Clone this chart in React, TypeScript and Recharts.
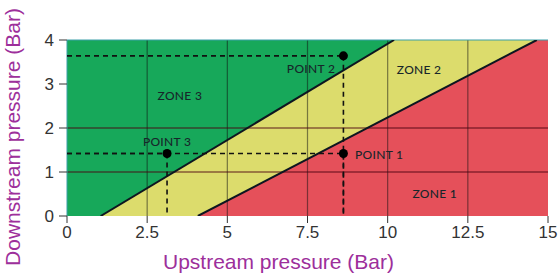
import React from 'react';
import { ComposedChart, Area, Line, Scatter, XAxis, YAxis, CartesianGrid, ReferenceLine } from 'recharts';

// axis ticks
const xTicks = [0, 2.5, 5, 7.5, 10, 12.5, 15];
const yTicks = [0, 1, 2, 3, 4];
const gridX = [2.5, 5, 7.5, 10, 12.5];
const gridY = [1, 2];

// zone boundaries (upstream, downstream)
const zone3Boundary = [
  { x: 1.05, y: 0 },
  { x: 10.2, y: 4 },
];
const zone1Boundary = [
  { x: 4.08, y: 0 },
  { x: 14.65, y: 4 },
];
const xMax = 15;
const yMax = 4;

// operating points
const points = [
  { name: 'POINT 1', x: 8.62, y: 1.42 },
  { name: 'POINT 2', x: 8.62, y: 3.64 },
  { name: 'POINT 3', x: 3.12, y: 1.42 },
];

// text placed on the plot
const plotLabels = [
  { text: 'ZONE 3', x: 3.52, y: 2.75, anchor: 'middle' },
  { text: 'ZONE 2', x: 10.98, y: 3.32, anchor: 'middle' },
  { text: 'ZONE 1', x: 11.47, y: 0.52, anchor: 'middle' },
  { text: 'POINT 1', x: 8.98, y: 1.39, anchor: 'start' },
  { text: 'POINT 2', x: 7.61, y: 3.36, anchor: 'middle' },
  { text: 'POINT 3', x: 3.12, y: 1.7, anchor: 'middle' },
];

const GREEN = '#17a85a';
const YELLOW = '#dcdc6c';
const RED = '#e5505a';
const PURPLE = '#9d2f9b';

const zone2Fill = [...zone3Boundary, { x: xMax, y: yMax }];
const zone1Fill = [...zone1Boundary, { x: xMax, y: yMax }];

const PlotText = (props: any) => {
  const { cx, cy, payload } = props;
  return (
    <text
      x={cx}
      y={cy}
      textAnchor={payload.anchor}
      dominantBaseline="central"
      fontFamily="Lato, 'Open Sans', sans-serif"
      fontSize={12}
      fontWeight={500}
      letterSpacing={0.3}
      fill="#17262a"
    >
      {payload.text}
    </text>
  );
};

const renderXLabel = (props: any) => {
  const { x, y, width } = props.viewBox;
  return (
    <text x={x + width / 2 - 29} y={y + 53} textAnchor="middle" fill={PURPLE} fontSize={21} fontFamily="'Liberation Sans', Arial, sans-serif">
      Upstream pressure (Bar)
    </text>
  );
};

const renderYLabel = (props: any) => {
  const { x, y, height } = props.viewBox;
  const cx = x + 20;
  const cy = y + height / 2 + 9;
  return (
    <text x={cx} y={cy} transform={`rotate(-90 ${cx} ${cy})`} textAnchor="middle" fill={PURPLE} fontSize={21} fontFamily="'Liberation Sans', Arial, sans-serif">
      Downstream pressure (Bar)
    </text>
  );
};

const tickStyle = { fontSize: 17, fill: '#333', fontFamily: "'Liberation Sans', Arial, sans-serif" };

const App: React.FC = () => {
  return (
    <div style={{ position: 'absolute', left: 0, top: 0, width: 559, height: 275, background: '#fff' }}>
      <ComposedChart width={559} height={275} margin={{ top: 40, right: 11, left: 0, bottom: 0 }}>
        <CartesianGrid fill={GREEN} horizontal={false} vertical={false} />
        <XAxis
          type="number"
          dataKey="x"
          domain={[0, xMax]}
          ticks={xTicks}
          allowDataOverflow
          height={59}
          tickSize={7}
          tickMargin={3}
          axisLine={false}
          tickLine={{ stroke: '#333' }}
          tick={tickStyle}
          label={renderXLabel}
        />
        <YAxis
          type="number"
          dataKey="y"
          domain={[0, yMax]}
          ticks={yTicks}
          allowDataOverflow
          width={67}
          tickSize={8}
          tickMargin={5}
          axisLine={false}
          tickLine={{ stroke: '#333' }}
          tick={tickStyle}
          label={renderYLabel}
        />
        <Area data={zone2Fill} dataKey="y" type="linear" baseValue={0} fill={YELLOW} fillOpacity={1} stroke="none" isAnimationActive={false} />
        <Area data={zone1Fill} dataKey="y" type="linear" baseValue={0} fill={RED} fillOpacity={1} stroke="none" isAnimationActive={false} />
        {gridX.map((v) => (
          <ReferenceLine
            key={'gx' + v}
            segment={[{ x: v, y: 0 }, { x: v, y: yMax }]}
            stroke="#101010"
            strokeOpacity={0.5}
            strokeWidth={1.2}
          />
        ))}
        {gridY.map((v) => (
          <ReferenceLine
            key={'gy' + v}
            segment={[{ x: 0, y: v }, { x: xMax, y: v }]}
            stroke="#4a0010"
            strokeOpacity={0.6}
            strokeWidth={1.4}
          />
        ))}
        <ReferenceLine segment={[{ x: 0, y: yMax }, { x: xMax, y: yMax }]} stroke="#3a9fa8" strokeWidth={1} />
        <ReferenceLine segment={[{ x: 0, y: 0 }, { x: 0, y: yMax }]} stroke="#3a9fa8" strokeWidth={1} />
        <Line data={zone3Boundary} dataKey="y" type="linear" stroke="#0d1620" strokeWidth={2} dot={false} isAnimationActive={false} />
        <Line data={zone1Boundary} dataKey="y" type="linear" stroke="#0d1620" strokeWidth={2} dot={false} isAnimationActive={false} />
        {points.map((p) => (
          <ReferenceLine
            key={'h' + p.name}
            segment={[{ x: 0, y: p.y }, { x: p.x, y: p.y }]}
            stroke="#111"
            strokeWidth={1.6}
            strokeDasharray="5 4"
          />
        ))}
        {points.map((p) => (
          <ReferenceLine
            key={'v' + p.name}
            segment={[{ x: p.x, y: p.y }, { x: p.x, y: 0 }]}
            stroke="#111"
            strokeWidth={1.6}
            strokeDasharray="5 4"
          />
        ))}
        <Scatter data={points} dataKey="y" fill="#000" isAnimationActive={false} />
        <Scatter data={plotLabels} dataKey="y" shape={PlotText} isAnimationActive={false} />
      </ComposedChart>
    </div>
  );
};

export default App;
